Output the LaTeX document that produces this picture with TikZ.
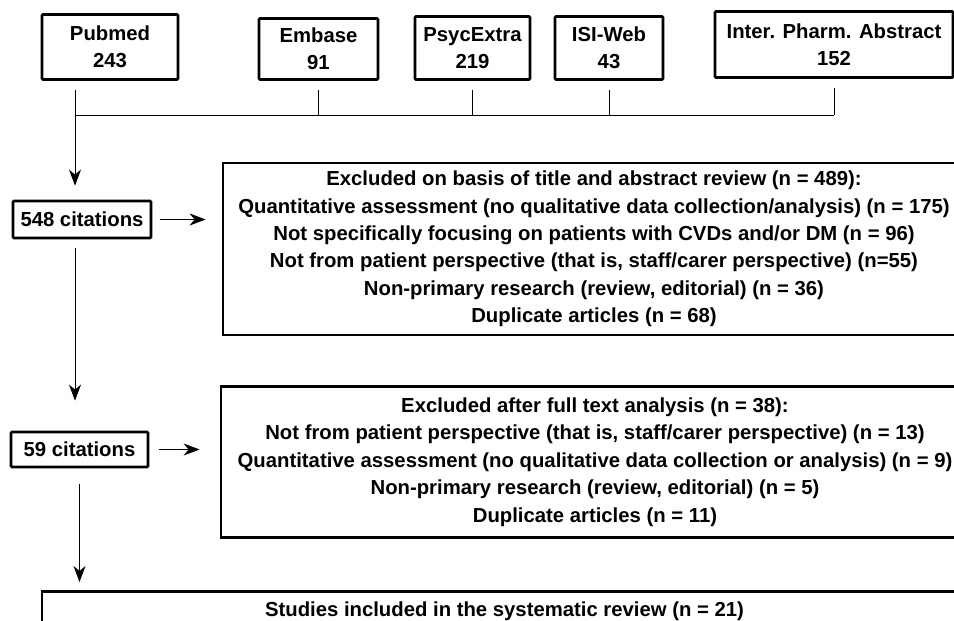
\documentclass[tikz,border=0pt]{standalone}
\usepackage{fontspec}
\setmainfont{Liberation Sans}
\usetikzlibrary{positioning,arrows.meta}

\begin{document}
\begin{tikzpicture}[x=1pt, y=-1pt, font=\bfseries\fontsize{20.3}{27.4}\selectfont] %Citation flow
	\tikzstyle{srcbox} = [rectangle, draw, line width=2.8pt, rounded corners=1pt, align=center, inner sep=0pt]
	\tikzstyle{citbox} = [rectangle, draw, line width=2.8pt, rounded corners=1pt, align=center, inner sep=0pt]
	\tikzstyle{exclbox} = [rectangle, draw, line width=2.8pt, align=center, inner sep=0pt]
	\tikzstyle{link} = [line width=0.9pt]
	\tikzstyle{arrow} = [link, -{Stealth[length=16pt, width=12pt, inset=5pt]}]
	\useasboundingbox (0,0) rectangle (954,621);
	\clip (0,0) rectangle (954,621);
	% sources
	\foreach \name/\txt/\x/\y/\w/\h in {Pubmed/Pubmed\\243/110/47/136/65, Embase/Embase\\91/318.5/49/119/61, PsycExtra/PsycExtra\\219/472.5/48/115/63, ISI-Web/ISI-Web\\43/609/48/108/63, IPA/Inter. Pharm. Abstract\\152/834/44.5/238/66}
	{
		\node[srcbox, minimum width=\w pt, minimum height=\h pt] (\name) at (\x,\y) {\txt};
	}
	\coordinate (bus) at (75,115);
	\foreach \name in {Embase, PsycExtra, ISI-Web, IPA}
	{
		\draw[link, shorten <=9pt] (\name.south) -- (\name.south |- bus);
	}
	\draw[link] (bus) -- (bus -| IPA.south);
	% citations
	\node[citbox, minimum width=138pt, minimum height=37pt] (c548) at (82,219.5) {548 citations};
	\node[citbox, minimum width=137pt, minimum height=35pt] (c59) at (79.5,449.5) {59 citations};
	\node[exclbox, minimum width=742pt, minimum height=172pt] (excl1) at (594,249) {Excluded on basis of title and abstract review (n = 489):\\Quantitative assessment (no qualitative data collection/analysis) (n = 175)\\Not specifically focusing on patients with CVDs and/or DM (n = 96)\\Not from patient perspective (that is, staff/carer perspective) (n=55)\\Non-primary research (review, editorial) (n = 36)\\Duplicate articles (n = 68)};
	\node[exclbox, minimum width=748pt, minimum height=151pt] (excl2) at (595,462) {Excluded after full text analysis (n = 38):\\Not from patient perspective (that is, staff/carer perspective) (n = 13)\\Quantitative assessment (no qualitative data collection or analysis) (n = 9)\\Non-primary research (review, editorial) (n = 5)\\Duplicate articles (n = 11)};
	\node[exclbox, anchor=north, minimum width=925pt, inner ysep=11pt, text height=14pt, text depth=40pt] (incl) at (504.5,590) {Studies included in the systematic review (n = 21)};
	% arrows
	\draw[arrow, shorten <=9pt, shorten >=14pt] (Pubmed.south -| bus) -- (c548.north -| bus);
	\draw[arrow, shorten <=8pt, shorten >=16pt] (c548.east) -- (c548.east -| excl1.west);
	\draw[arrow, shorten <=9pt, shorten >=30pt] (c548.south -| bus) -- (c59.north -| bus);
	\draw[arrow, shorten <=10pt, shorten >=20pt] (c59.east) -- (c59.east -| excl2.west);
	\draw[arrow, shorten <=16pt, shorten >=8pt] (c59.south) -- (c59.south |- incl.north);
\end{tikzpicture}
\end{document}
